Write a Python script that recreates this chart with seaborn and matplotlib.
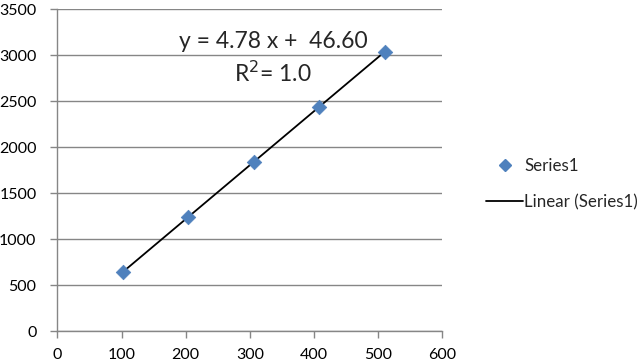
import matplotlib
matplotlib.use("Agg")
import matplotlib.pyplot as plt
import seaborn as sns
import pandas as pd
from matplotlib.lines import Line2D

x_vals = [102, 204, 306, 408, 510]
y_vals = [650, 1240, 1840, 2440, 3040]
x_ticks = [0, 100, 200, 300, 400, 500, 600]
y_ticks = [0, 500, 1000, 1500, 2000, 2500, 3000, 3500]
series_name = "Series1"
trend_name = "Linear (Series1)"
eq_text = "y = 4.78 x +  46.60"
r2_text = "R$^2$= 1.0"

df = pd.DataFrame({"x": x_vals, "y": y_vals})

sns.set_style("white")
plt.rcParams['font.family'] = ['Lato', 'DejaVu Sans']

fig = plt.figure(figsize=(6.44, 3.64), dpi=100)
ax = fig.add_axes([0.089, 0.0893, 0.598, 0.8852])

grid_c = "#868686"
blue = "#4F81BD"

sns.regplot(data=df, x="x", y="y", scatter=False, ci=None, truncate=True,
            line_kws=dict(color="black", lw=1.3, zorder=2), ax=ax)
sns.scatterplot(data=df, x="x", y="y", marker="D", s=55, color=blue,
                edgecolor=blue, linewidth=0.5, zorder=3, ax=ax)

ax.set_xlim(0, 600)
ax.set_ylim(0, 3500)
ax.set_xticks(x_ticks)
ax.set_yticks(y_ticks)
ax.set_xlabel("")
ax.set_ylabel("")
ax.yaxis.grid(True, color=grid_c, lw=1.0)
ax.xaxis.grid(False)
ax.set_axisbelow(True)
for s in ["top", "right"]:
    ax.spines[s].set_visible(False)
for s in ["left", "bottom"]:
    ax.spines[s].set_color(grid_c)
    ax.spines[s].set_linewidth(1.0)
ax.tick_params(axis="both", direction="out", length=5, width=1.0, color=grid_c,
               labelsize=11.5, labelcolor="black")
ax.tick_params(axis="y", pad=10)
ax.tick_params(axis="x", pad=7)
ax.tick_params(left=True, bottom=True)

fig.text(273 / 644, 1 - 42 / 364, eq_text, ha="center", va="center", fontsize=16.5)
fig.text(273 / 644, 1 - 73 / 364, r2_text, ha="center", va="center", fontsize=16.5)

handles = [
    Line2D([], [], marker="D", ls="none", color=blue, markersize=6),
    Line2D([], [], color="black", lw=1.3),
]
fig.legend(handles, [series_name, trend_name], loc="center left",
           bbox_to_anchor=(486 / 644, 1 - 184 / 364), frameon=False,
           fontsize=12.2, handlelength=2.2, handletextpad=0.05, labelspacing=1.2,
           borderaxespad=0, borderpad=0)

fig.savefig("out.png", dpi=100)
